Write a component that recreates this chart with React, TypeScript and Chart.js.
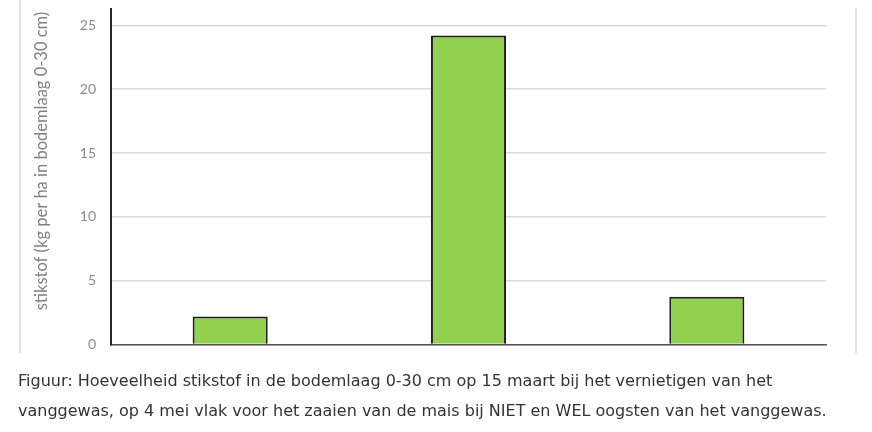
import React, { useEffect, useRef } from 'react';
import { Chart, registerables } from 'chart.js';

Chart.register(...registerables);

const categories = ['15 maart', '4 mei, NIET oogsten', '4 mei, WEL oogsten'];
const values = [2.2, 24.2, 3.75];
const yTickValues = [0, 5, 10, 15, 20, 25];
const yMax = 26.25;
const yTitle = 'stikstof (kg per ha in bodemlaag 0-30 cm)';
const captionLines = [
  'Figuur: Hoeveelheid stikstof in de bodemlaag 0-30 cm op 15 maart bij het vernietigen van het',
  'vanggewas, op 4 mei vlak voor het zaaien van de mais bij NIET en WEL oogsten van het vanggewas.',
];

const CANVAS_TOP = -14;

const yTitlePlugin = {
  id: 'yTitlePlugin',
  afterDraw(chart: any) {
    const ctx = chart.ctx;
    ctx.save();
    ctx.translate(42, 161 - CANVAS_TOP);
    ctx.rotate(-Math.PI / 2);
    ctx.font = '16.5px Lato';
    ctx.fillStyle = '#808080';
    ctx.textAlign = 'center';
    ctx.textBaseline = 'middle';
    ctx.fillText(yTitle, 0, 0);
    ctx.restore();
  },
};

export default function App() {
  const ref = useRef<HTMLCanvasElement | null>(null);

  useEffect(() => {
    if (!ref.current) return;
    const chart = new Chart(ref.current, {
      type: 'bar',
      data: {
        labels: categories,
        datasets: [
          {
            data: values,
            backgroundColor: '#92d050',
            borderColor: '#1e1e1e',
            borderWidth: 2,
            categoryPercentage: 1,
            barPercentage: 0.315,
          },
        ],
      },
      options: {
        responsive: false,
        animation: false,
        devicePixelRatio: 1,
        layout: { padding: { left: 20, right: 46, top: 8, bottom: 0 } },
        plugins: { legend: { display: false }, tooltip: { enabled: false } },
        scales: {
          x: {
            ticks: { display: false },
            grid: { display: false, drawTicks: false },
            border: { display: true, color: '#555555', width: 1.5 },
          },
          y: {
            min: 0,
            max: yMax,
            ticks: {
              stepSize: 5,
              padding: 15,
              color: '#8a8a8a',
              font: { family: 'Lato', size: 14 },
            },
            afterBuildTicks: (s: any) => {
              s.ticks = yTickValues.map((v) => ({ value: v }));
            },
            grid: { color: '#dadada', lineWidth: 1.5, drawTicks: false },
            border: { display: true, color: '#2a2a2a', width: 2 },
            afterFit: (s: any) => {
              s.width = 91;
            },
          },
        },
      },
      plugins: [yTitlePlugin],
    });
    return () => chart.destroy();
  }, []);

  return (
    <div style={{ position: 'fixed', left: 0, top: 0, width: 872, height: 432, background: '#fff', overflow: 'hidden' }}>
      <div style={{ position: 'absolute', left: 19, top: 0, width: 2, height: 353, background: '#e2e2e2' }} />
      <div style={{ position: 'absolute', left: 855, top: 8, width: 2, height: 345, background: '#e2e2e2' }} />
      <canvas
        ref={ref}
        width={872}
        height={382}
        style={{ position: 'absolute', left: 0, top: CANVAS_TOP, width: 872, height: 382 }}
      />
      <div
        style={{
          position: 'absolute',
          left: 18,
          top: 366,
          fontFamily: '"DejaVu Sans", Verdana, sans-serif',
          fontSize: 16,
          lineHeight: '30px',
          color: '#333333',
          whiteSpace: 'nowrap',
        }}
      >
        {captionLines.map((l, i) => (
          <div key={i}>{l}</div>
        ))}
      </div>
    </div>
  );
}
